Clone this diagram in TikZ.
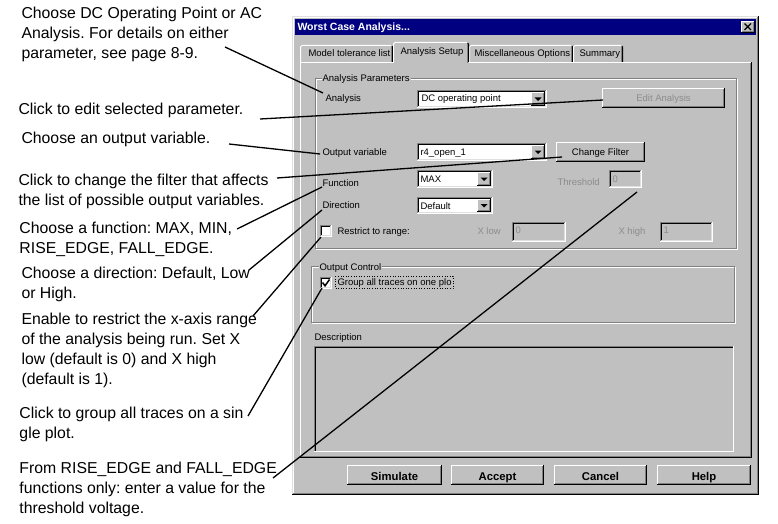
\documentclass[tikz,border=0pt]{standalone}
\usepackage{fontspec}
\setmainfont{Liberation Sans}
\frenchspacing
\definecolor{wgray}{HTML}{C0C0C0}
\definecolor{dgray}{HTML}{808080}
\definecolor{lgray}{HTML}{DFDFDF}
\definecolor{navy}{HTML}{000080}
\definecolor{distext}{HTML}{8C8C8C}
\tikzset{
 note/.style={font=\fontsize{15.8}{20}\selectfont, inner sep=0pt, anchor=base west},
 ui/.style={font=\fontsize{9.5}{11}\selectfont, inner sep=0pt, anchor=base west},
 dis/.style={ui, text=distext},
 btn/.style={font=\bfseries\fontsize{11.3}{13}\selectfont, inner sep=0pt, anchor=base},
 leader/.style={line width=1.3pt, black},
 grouplbl/.style={ui, fill=wgray, inner xsep=1pt, inner ysep=1pt},
}
\newcommand\raisedbtn[4]{%
 \fill[wgray] (#1,#2) rectangle (#3,#4);
 \draw[white] ({#1+0.5},{#4-1}) -- ({#1+0.5},{#2+0.5}) -- ({#3-1},{#2+0.5});
 \draw[black] ({#1},{#4-0.5}) -- ({#3-0.5},{#4-0.5}) -- ({#3-0.5},{#2});
 \draw[dgray] ({#1+1},{#4-1.5}) -- ({#3-1.5},{#4-1.5}) -- ({#3-1.5},{#2+1});
}
\newcommand\sunkenbox[5]{%
 \fill[#5] (#1,#2) rectangle (#3,#4);
 \draw[dgray] ({#1+0.5},{#4}) -- ({#1+0.5},{#2+0.5}) -- ({#3},{#2+0.5});
 \draw[black] ({#1+1.5},{#4-1}) -- ({#1+1.5},{#2+1.5}) -- ({#3-1},{#2+1.5});
 \draw[white] ({#1},{#4-0.5}) -- ({#3-0.5},{#4-0.5}) -- ({#3-0.5},{#2});
 \draw[lgray] ({#1+1},{#4-1.5}) -- ({#3-1.5},{#4-1.5}) -- ({#3-1.5},{#2+1});
}
\newcommand\etched[4]{%
 \draw[white] ({#1+1.5},{#2+1.5}) rectangle ({#3+0.5},{#4+0.5});
 \draw[dgray] ({#1+0.5},{#2+0.5}) rectangle ({#3-0.5},{#4-0.5});
}
\newcommand\ddarrow[4]{%
 \raisedbtn{#1}{#2}{#3}{#4}
 \fill[black] ({(#1+#3)/2-3.5},{(#2+#4)/2-1.5}) -- ({(#1+#3)/2+3.5},{(#2+#4)/2-1.5}) -- ({(#1+#3)/2},{(#2+#4)/2+2}) -- cycle;
}
\newcommand\inactivetab[2]{%
 \fill[wgray] (#1,45) rectangle (#2,62);
 \draw[white] ({#1+0.5},62) -- ({#1+0.5},47) -- ({#1+2},45.5) -- ({#2-2},45.5);
 \draw[dgray] ({#2-1.5},47) -- ({#2-1.5},62);
 \draw[black] ({#2-1},46) -- ({#2-0.5},47) -- ({#2-0.5},62);
}
\begin{document}
\begin{tikzpicture}[x=1pt,y=-1pt,line width=1pt]
\useasboundingbox (0,0) rectangle (778,524);
\fill[white] (0,0) rectangle (778,524);

% ---------- window ----------
\fill[wgray] (292,16) rectangle (759,495);
\draw[lgray] (292.5,495) -- (292.5,16.5) -- (759,16.5);
\draw[white] (293.5,494) -- (293.5,17.5) -- (758,17.5);
\draw[black] (292,494.5) -- (758.5,494.5) -- (758.5,16);
\draw[dgray] (293,493.5) -- (757.5,493.5) -- (757.5,17);
\fill[navy] (295,19) rectangle (756,35);
\node[font=\bfseries\fontsize{10.5}{12}\selectfont, text=white, inner sep=0pt, anchor=base west] (title) at (297,31) {Worst Case Analysis...};
\raisedbtn{741}{21}{755}{33}
\draw[black, line width=1.3pt] (744.5,23.5) -- (751,30) (751,23.5) -- (744.5,30);

% ---------- tabs & panel ----------
\fill[wgray] (300,62) rectangle (752,458);
\draw[white] (300.5,458) -- (300.5,62.5) -- (752,62.5);
\draw[black] (300,457.5) -- (751.5,457.5) -- (751.5,62);
\draw[dgray] (301,456.5) -- (750.5,456.5) -- (750.5,63);
\inactivetab{300}{393}
\inactivetab{469}{573}
\inactivetab{573}{623}
\fill[wgray] (393,42) rectangle (469,63.5);
\draw[white] (393.5,63) -- (393.5,44) -- (395,42.5) -- (467,42.5);
\draw[dgray] (467.5,44) -- (467.5,63);
\draw[black] (467.5,43) -- (468.5,44) -- (468.5,62);
\node[ui] (tab1) at (308,57) {Model tolerance list};
\node[ui] (tab2) at (400,55) {Analysis Setup};
\node[ui] (tab3) at (474,57) {Miscellaneous Options};
\node[ui] (tab4) at (579,57) {Summary};

% ---------- Analysis Parameters group ----------
\etched{315}{78}{737}{249}
\node[grouplbl] (gAP) at (321,82) {Analysis Parameters};

\node[ui] (lAnalysis) at (325,102) {Analysis};
\sunkenbox{417}{90}{547}{108}{white}
\node[ui] (vAnalysis) at (421,102) {DC operating point};
\ddarrow{531}{92}{545}{106}
\raisedbtn{602}{88}{725}{108}
\node[dis, anchor=base] (bEdit) at (663.5,102) {Edit Analysis};

\node[ui] (lOut) at (322,155) {Output variable};
\sunkenbox{417}{143}{547}{161}{white}
\node[ui] (vOut) at (420,155) {r4\_open\_1};
\ddarrow{531}{145}{545}{159}
\raisedbtn{556}{142}{645}{162}
\node[ui, anchor=base] (bFilter) at (600.5,155.5) {Change Filter};

\node[ui] (lFunc) at (322,186) {Function};
\sunkenbox{417}{170}{493}{188}{white}
\node[ui] (vFunc) at (420,182) {MAX};
\ddarrow{477}{172}{491}{186}
\node[dis] (lThr) at (557,185) {Threshold};
\sunkenbox{609}{170}{642}{188}{wgray}
\node[dis] (vThr) at (612,182) {0};

\node[ui] (lDir) at (322,208) {Direction};
\sunkenbox{417}{197}{493}{214}{white}
\node[ui] (vDir) at (420,209) {Default};
\ddarrow{477}{199}{491}{212}

\sunkenbox{320}{225}{332}{237}{white}
\node[ui] (lRange) at (337,234) {Restrict to range:};
\node[dis] (lXlow) at (477,234) {X low};
\sunkenbox{512}{222}{566}{242}{wgray}
\node[dis] (vXlow) at (515,233) {0};
\node[dis] (lXhigh) at (618,234) {X high};
\sunkenbox{660}{222}{713}{242}{wgray}
\node[dis] (vXhigh) at (663,233) {1};

% ---------- Output Control group ----------
\etched{311}{266}{735}{323}
\node[grouplbl] (gOC) at (318,270) {Output Control};
\sunkenbox{320}{277}{332}{289}{white}
\draw[black, line width=1.5pt] (322.5,282.5) -- (325,285.8) -- (329.5,279.5);
\node[ui] (lGroup) at (337,285) {Group all traces on one plo};
\draw[black, line width=0.6pt, dotted] (335,276) rectangle (453,288.5);

% ---------- Description ----------
\node[ui] (lDesc) at (314,340) {Description};
\fill[wgray] (314,346) rectangle (734,452);
\draw[dgray] (314.5,452) -- (314.5,346.5) -- (734,346.5);
\draw[black] (315.5,451) -- (315.5,347.5) -- (733,347.5);
\draw[white] (314,451.5) -- (733.5,451.5) -- (733.5,346);

% ---------- bottom buttons ----------
\raisedbtn{347}{465}{442}{485}
\node[btn] (bSim) at (394.5,480) {Simulate};
\raisedbtn{451}{465}{544}{485}
\node[btn] (bAcc) at (497.5,480) {Accept};
\raisedbtn{554}{465}{647}{485}
\node[btn] (bCan) at (600.5,480) {Cancel};
\raisedbtn{657}{465}{751}{485}
\node[btn] (bHelp) at (704,480) {Help};

% ---------- notes ----------
\node[note] (n1) at (21,19) {\vtop{\hbox{Choose DC Operating Point or AC}\hbox{Analysis. For details on either}\hbox{parameter, see page 8-9.}}};
\node[note] (n2) at (18,114) {Click to edit selected parameter.};
\node[note] (n3) at (21,143) {Choose an output variable.};
\node[note] (n4) at (18,185) {\vtop{\hbox{Click to change the filter that affects}\hbox{the list of possible output variables.}}};
\node[note] (n5) at (19,233) {\vtop{\hbox{Choose a function: MAX, MIN,}\hbox{RISE\_EDGE, FALL\_EDGE.}}};
\node[note] (n6) at (21,278) {\vtop{\hbox{Choose a direction: Default, Low}\hbox{or High.}}};
\node[note] (n7) at (21,324) {\vtop{\hbox{Enable to restrict the x-axis range}\hbox{of the analysis being run. Set X}\hbox{low (default is 0) and X high}\hbox{(default is 1).}}};
\node[note] (n8) at (19,418) {\vtop{\hbox{Click to group all traces on a sin}\hbox{gle plot.}}};
\node[note] (n9) at (19,473) {\vtop{\hbox{From RISE\_EDGE and FALL\_EDGE}\hbox{functions only: enter a value for the}\hbox{threshold voltage.}}};

% ---------- leader lines ----------
\coordinate (s1) at (225,47);  \coordinate (e1) at (323,93);
\coordinate (s2) at (260,119); \coordinate (e2) at (603,100);
\coordinate (s3) at (229,144); \coordinate (e3) at (320,154);
\coordinate (s4) at (277,178); \coordinate (e4) at (562,157);
\coordinate (s5) at (237,229); \coordinate (e5) at (322,187);
\coordinate (s6) at (249,270); \coordinate (e6) at (322,210);
\coordinate (s7) at (253,316); \coordinate (e7) at (321,237);
\coordinate (s8) at (248,416); \coordinate (e8) at (322,288);
\coordinate (s9) at (273,478); \coordinate (e9) at (637,192);
\foreach \i in {1,...,9} { \draw[leader] (s\i) -- (e\i); }
\end{tikzpicture}
\end{document}
